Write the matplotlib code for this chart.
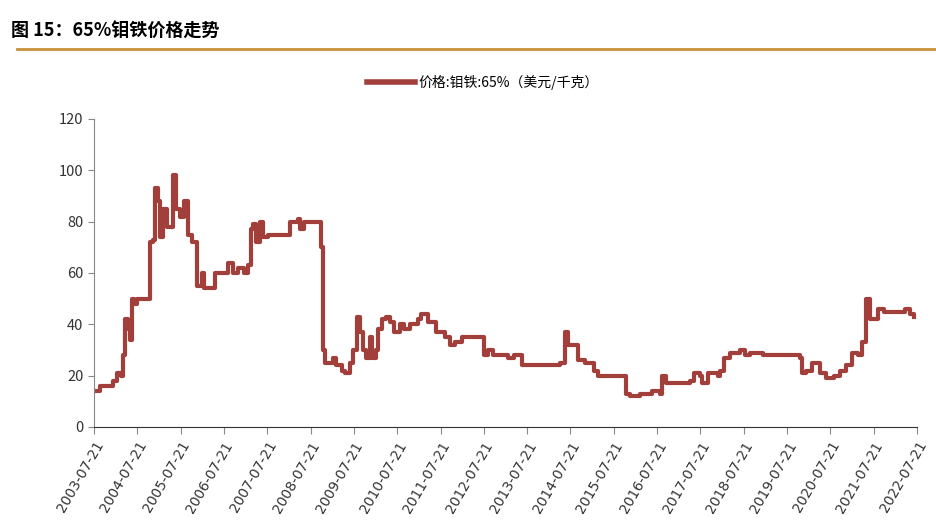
import matplotlib
matplotlib.use("Agg")
import matplotlib.pyplot as plt
from matplotlib.lines import Line2D

plt.rcParams["font.family"] = ["Noto Sans CJK SC", "DejaVu Sans"]

# decimal year -> price (USD/kg)
YEARS = [2003.55, 2003.69, 2003.92, 2003.99, 2004.08, 2004.17, 2004.22, 2004.27, 2004.33, 2004.38,
         2004.43, 2004.47, 2004.54, 2004.80, 2004.84, 2004.91, 2004.96, 2005.03, 2005.07, 2005.14,
         2005.24, 2005.37, 2005.44, 2005.54, 2005.63, 2005.72, 2005.81, 2005.93, 2006.04, 2006.09,
         2006.30, 2006.34, 2006.55, 2006.64, 2006.76, 2006.87, 2007.01, 2007.10, 2007.17, 2007.22,
         2007.29, 2007.38, 2007.45, 2007.57, 2007.96, 2008.07, 2008.26, 2008.31, 2008.40, 2008.72,
         2008.79, 2008.84, 2008.88, 2009.07, 2009.14, 2009.27, 2009.34, 2009.46, 2009.53, 2009.62,
         2009.69, 2009.76, 2009.83, 2009.92, 2009.97, 2010.06, 2010.11, 2010.20, 2010.29, 2010.38,
         2010.48, 2010.61, 2010.71, 2010.84, 2011.03, 2011.10, 2011.26, 2011.44, 2011.65, 2011.77,
         2011.88, 2012.04, 2012.51, 2012.55, 2012.65, 2012.76, 2012.99, 2013.11, 2013.25, 2013.43,
         2013.61, 2014.31, 2014.42, 2014.49, 2014.58, 2014.72, 2014.88, 2015.09, 2015.18, 2015.76,
         2015.83, 2015.92, 2016.15, 2016.43, 2016.62, 2016.66, 2016.75, 2017.12, 2017.31, 2017.40,
         2017.54, 2017.59, 2017.72, 2017.95, 2018.00, 2018.09, 2018.23, 2018.46, 2018.58, 2018.69,
         2018.99, 2019.34, 2019.85, 2019.89, 2019.99, 2020.12, 2020.26, 2020.31, 2020.45, 2020.63,
         2020.77, 2020.91, 2021.05, 2021.19, 2021.28, 2021.37, 2021.46, 2021.65, 2021.79, 2022.16,
         2022.27, 2022.39, 2022.48]
PRICES = [14, 16, 16, 18, 21, 20, 28, 42, 38, 34,
          50, 48, 50, 50, 72, 73, 93, 88, 74, 85,
          78, 98, 85, 82, 88, 75, 72, 55, 60, 54,
          54, 60, 60, 64, 60, 62, 60, 63, 77, 79,
          72, 80, 74, 75, 75, 80, 81, 77, 80, 80,
          70, 30, 25, 27, 24, 22, 21, 25, 30, 43,
          37, 30, 27, 35, 27, 30, 38, 42, 43, 41,
          37, 40, 38, 40, 42, 44, 41, 37, 35, 32,
          33, 35, 35, 28, 30, 28, 28, 27, 28, 24,
          24, 25, 37, 32, 32, 26, 25, 22, 20, 20,
          13, 12, 13, 14, 13, 20, 17, 17, 18, 21,
          20, 17, 21, 20, 22, 27, 29, 30, 28, 29,
          28, 28, 27, 21, 22, 25, 25, 21, 19, 20,
          22, 24, 29, 28, 33, 50, 42, 46, 45, 45,
          46, 44, 43]
TICK_LABELS = [f"{y}-07-21" for y in range(2003, 2023)]
TICK_POS = [y + 0.55 for y in range(2003, 2023)]

LINE_COLOR = "#A33F3B"

fig = plt.figure(figsize=(9.37, 5.22), dpi=100)
ax = fig.add_axes([94 / 937, 1 - 427 / 522, (917 - 94) / 937, (427 - 119) / 522])
ax.plot(YEARS, PRICES, color=LINE_COLOR, linewidth=3, drawstyle="steps-post")
ax.set_xlim(TICK_POS[0], TICK_POS[-1])
ax.set_ylim(0, 120)
ax.set_yticks(range(0, 121, 20))
ax.set_xticks(TICK_POS)
ax.set_xticklabels(TICK_LABELS, rotation=60, ha="right", rotation_mode="anchor", fontsize=10,
                   family="DejaVu Sans", color="#333333")
for lab in ax.get_yticklabels():
    lab.set_fontsize(10.5)
    lab.set_color("#333333")
for s in ("top", "right"):
    ax.spines[s].set_visible(False)
ax.spines["left"].set_color("#888888")
ax.spines["bottom"].set_color("#333333")
ax.tick_params(axis="y", length=4, color="#888888")
ax.tick_params(axis="x", length=5, color="#888888")

fig.text(0.012, 0.94, "图 15：65%钼铁价格走势", fontsize=13, fontweight="bold", ha="left", va="center")
fig.add_artist(Line2D([0.018, 1.0], [0.907, 0.907], color="#C8923A", linewidth=2))

handle = Line2D([], [], color=LINE_COLOR, linewidth=4)
fig.legend([handle], ["价格:钼铁:65%（美元/千克）"], loc="center", bbox_to_anchor=(0.515, 0.842),
           frameon=False, fontsize=10, handlelength=3.5, handletextpad=0.2)

fig.savefig("out.png", dpi=100)
